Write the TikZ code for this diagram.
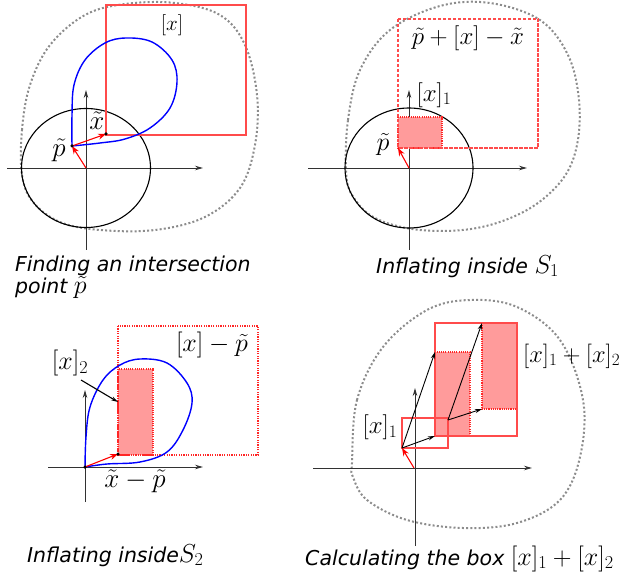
\RequirePackage{fix-cm}
\documentclass[tikz,border=0pt]{standalone}
\usepackage{fontspec}
\newfontfamily\capfont{DejaVu Sans}
\usetikzlibrary{arrows.meta}
\definecolor{boxred}{RGB}{255,75,75}
\definecolor{pinkfill}{RGB}{255,155,155}
\definecolor{axisgray}{RGB}{50,50,50}
\definecolor{blobgray}{RGB}{140,140,140}
\newcommand{\capmath}[1]{{\fontsize{26}{22}\selectfont$#1$}}
\begin{document}
\begin{tikzpicture}[x=1pt,y=-1pt,
 axis/.style={axisgray, line width=0.9pt, -{Stealth[length=8pt,width=4.5pt]}},
 blob/.style={blobgray, line width=2pt, dash pattern=on 2pt off 2.2pt},
 circ/.style={black, line width=1.1pt},
 solidbox/.style={boxred, line width=1.3pt},
 dashbox/.style={boxred, line width=1.1pt, dash pattern=on 3.5pt off 1.5pt},
 dotbox/.style={red!85, line width=1.2pt, dash pattern=on 1.2pt off 1.2pt},
 pinkbox/.style={fill=pinkfill, draw=red!85, line width=1.1pt, dash pattern=on 1.1pt off 1.1pt},
 loopline/.style={blue, line width=1.4pt},
 redarrow/.style={red, line width=1.1pt, -{Stealth[length=8pt,width=6pt]}},
 blackarrow/.style={black, line width=0.9pt, -{Stealth[length=7pt,width=4pt]}},
 dotpt/.style={circle, fill=black, inner sep=0pt, minimum size=3.5pt},
 mlab/.style={inner sep=0pt, font=\fontsize{25}{28}\selectfont},
 caption/.style={inner sep=0pt, font=\capfont\itshape\fontsize{20.5}{22}\selectfont, align=left},
]
\useasboundingbox (0,0) rectangle (626,585);

% ---------------- Panel 1 ----------------
\coordinate (o1) at (86,168);
\coordinate (p1) at (72,146);
\coordinate (x1) at (106,134);
\draw[blob] plot[smooth cycle, tension=0.6] coordinates {(22,175) (22,130) (30,85) (50,45) (85,15) (125,4) (175,3) (220,15) (245,45) (257,95) (255,145) (240,188) (205,217) (155,230) (100,230) (60,222) (33,202)};
\draw[axis] (7,168) -- (203,168);
\draw[axis] (86,250) -- (86,90);
\draw[circ] (o1) ellipse [x radius=64.5pt, y radius=59.5pt];
\draw[solidbox] (106,5) rectangle (246,135);
\draw[loopline] plot[smooth, tension=0.6] coordinates {(72,146) (72,115) (74,85) (85,60) (105,43) (126,38) (152,42) (172,60) (177,82) (170,108) (150,128) (125,139) (100,143) (72,146)};
\draw[redarrow] (o1) -- (p1);
\draw[redarrow] (p1) -- (x1);
\node[dotpt] (dp1) at (p1) {};
\node[dotpt] (dx1) at (x1) {};
\node[mlab, font=\fontsize{21}{24}\selectfont] (lx) at (172,25) {$[x]$};
\node[mlab, font=\fontsize{27}{30}\selectfont] (lp1) at (59,150) {$\tilde p$};
\node[mlab, font=\fontsize{27}{30}\selectfont] (lxt) at (97,121) {$\tilde x$};
\node[caption, anchor=base west] (cap1) at (15,294) {Finding an intersection\\point \capmath{\tilde p}};

% ---------------- Panel 2 ----------------
\coordinate (o2) at (409,168);
\coordinate (p2) at (398,148);
\draw[blob] plot[smooth cycle, tension=0.6] coordinates {(346,170) (348,120) (360,70) (390,30) (440,6) (490,3) (540,20) (568,55) (579,100) (577,145) (562,180) (527,210) (477,228) (420,230) (375,218) (352,195)};
\draw[axis] (308,168) -- (527,168);
\draw[axis] (409,250) -- (409,90);
\draw[circ] (o2) ellipse [x radius=64pt, y radius=60pt];
\draw[pinkbox] (398,117) rectangle (442,148);
\draw[dashbox] (398,19) rectangle (538,148);
\draw[redarrow] (o2) -- (p2);
\node[mlab] (lsum) at (468,38) {$\tilde p+[x]-\tilde x$};
\node[mlab] (lx1b) at (434,95) {$[x]_1$};
\node[mlab, font=\fontsize{26}{28}\selectfont] (lp2) at (383,145) {$\tilde p$};
\node[caption, anchor=base west] (cap2) at (376,273) {Inflating inside \capmath{S_1}};

% ---------------- Panel 3 ----------------
\coordinate (o3) at (85,467);
\coordinate (x3) at (118,454);
\draw[axis] (48,467) -- (203,467);
\draw[axis] (85,502) -- (85,390);
\draw[pinkbox] (118,369) rectangle (153,455);
\draw[dotbox] (118,326) rectangle (258,455);
\draw[loopline] plot[smooth, tension=0.6] coordinates {(85,467) (86,437) (90,407) (103,380) (120,365) (140,359) (167,363) (187,383) (192,403) (183,430) (167,452) (140,462) (107,464) (85,467)};
\draw[redarrow] (o3) -- (x3);
\node[dotpt] (do3) at (o3) {};
\node[dotpt] (dx3) at (x3) {};
\node[mlab, font=\fontsize{26}{28}\selectfont] (lxm) at (212,345) {$[x]-\tilde p$};
\node[mlab, font=\fontsize{26}{28}\selectfont] (lx2) at (70,363) {$[x]_2$};
\coordinate (a3s) at (81,380);
\coordinate (a3e) at (118,402);
\draw[blackarrow, line width=1.1pt] (a3s) -- (a3e);
\node[mlab, font=\fontsize{27}{30}\selectfont] (ldiff) at (135,481) {$\tilde x-\tilde p$};
\node[caption, anchor=base west] (cap3) at (27,562) {Inflating inside\capmath{S_2}};

% ---------------- Panel 4 ----------------
\coordinate (o4) at (414,468);
\coordinate (q1) at (402,448);
\coordinate (q2) at (448,420);
\draw[blob] plot[smooth cycle, tension=0.6] coordinates {(352,463) (357,400) (383,347) (427,310) (470,300) (517,307) (560,340) (583,400) (580,457) (560,500) (517,523) (463,528) (407,520) (367,500) (353,477)};
\draw[axis] (313,468) -- (532,468);
\draw[axis] (415,546) -- (415,388);
\draw[pinkbox] (435,352) rectangle (470,436);
\draw[pinkbox] (482,323) rectangle (517,409);
\draw[solidbox] (435,323) rectangle (517,436);
\draw[solidbox] (402,418) rectangle (448,448);
\draw[redarrow] (o4) -- (q1);
\coordinate (t1) at (435,436);
\coordinate (t2) at (435,352);
\coordinate (t3) at (482,409);
\coordinate (t4) at (482,323);
\draw[blackarrow] (q1) -- (t1);
\draw[blackarrow] (q1) -- (t2);
\draw[blackarrow] (q2) -- (t3);
\draw[blackarrow] (q2) -- (t4);
\node[mlab] (lx1d) at (380,427) {$[x]_1$};
\node[mlab, font=\fontsize{24.5}{28}\selectfont, anchor=west] (lx12) at (523,356) {$[x]_1+[x]_2$};
\node[caption, anchor=base west] (cap4) at (305,565) {Calculating the box \capmath{[x]_1+[x]_2}};
\end{tikzpicture}
\end{document}
